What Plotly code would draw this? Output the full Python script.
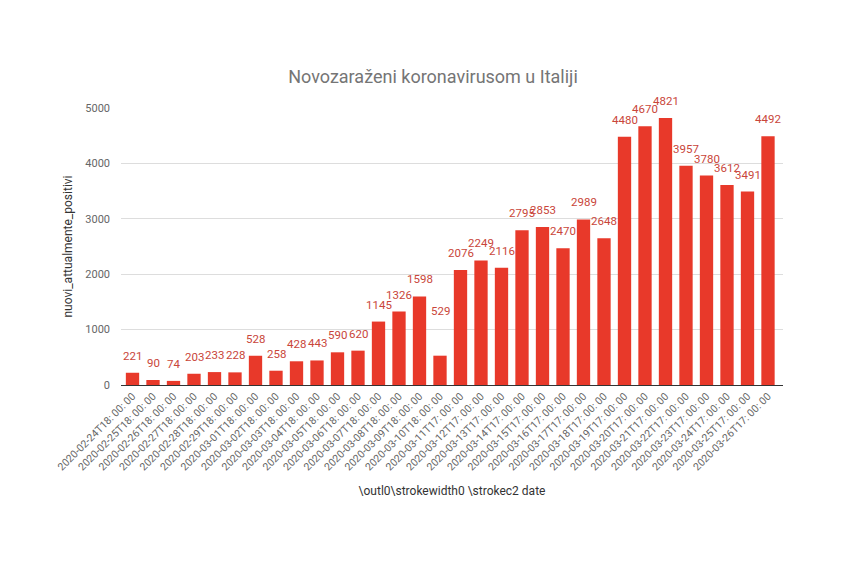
import plotly.graph_objects as go

dates = [
    "2020-02-24T18: 00: 00", "2020-02-25T18: 00: 00", "2020-02-26T18: 00: 00",
    "2020-02-27T18: 00: 00", "2020-02-28T18: 00: 00", "2020-02-29T18: 00: 00",
    "2020-03-01T18: 00: 00", "2020-03-02T18: 00: 00", "2020-03-03T18: 00: 00",
    "2020-03-04T18: 00: 00", "2020-03-05T18: 00: 00", "2020-03-06T18: 00: 00",
    "2020-03-07T18: 00: 00", "2020-03-08T18: 00: 00", "2020-03-09T18: 00: 00",
    "2020-03-10T18: 00: 00", "2020-03-11T17: 00: 00", "2020-03-12T17: 00: 00",
    "2020-03-13T17: 00: 00", "2020-03-14T17: 00: 00", "2020-03-15T17: 00: 00",
    "2020-03-16T17: 00: 00", "2020-03-17T17: 00: 00", "2020-03-18T17: 00: 00",
    "2020-03-19T17: 00: 00", "2020-03-20T17: 00: 00", "2020-03-21T17: 00: 00",
    "2020-03-22T17: 00: 00", "2020-03-23T17: 00: 00", "2020-03-24T17: 00: 00",
    "2020-03-25T17: 00: 00", "2020-03-26T17: 00: 00",
]
nuovi_attualmente_positivi = [
    221, 90, 74, 203, 233, 228, 528, 258, 428, 443, 590, 620, 1145, 1326, 1598,
    529, 2076, 2249, 2116, 2795, 2853, 2470, 2989, 2648, 4480, 4670, 4821, 3957,
    3780, 3612, 3491, 4492,
]
y_ticks = [0, 1000, 2000, 3000, 4000, 5000]

title_text = "Novozaraženi koronavirusom u Italiji"
x_title = "\\outl0\\strokewidth0 \\strokec2 date"
y_title = "nuovi_attualmente_positivi"

BAR = "#e8392a"
LABEL = "#c9463a"
FONT = "Roboto, Arial, sans-serif"

# extra vertical lift of individual data labels (label-collision placement)
label_lift = {"2020-03-10T18: 00: 00": 28}

fig = go.Figure()
fig.add_trace(go.Bar(
    x=dates, y=nuovi_attualmente_positivi,
    marker=dict(color=BAR, line=dict(width=0)),
    hoverinfo="x+y",
))

for d, v in zip(dates, nuovi_attualmente_positivi):
    fig.add_annotation(
        x=d, y=v, text=str(v), showarrow=False, yanchor="bottom",
        yshift=8 + label_lift.get(d, 0),
        font=dict(family=FONT, size=11.5, color=LABEL),
    )

fig.update_layout(
    width=850, height=566,
    paper_bgcolor="white", plot_bgcolor="white",
    margin=dict(l=113, r=75, t=100, b=189),
    bargap=0.35,
    showlegend=False,
    title=dict(text=title_text, x=0.5, xanchor="center", y=0.878, yanchor="middle",
               font=dict(family=FONT, size=18, color="#757575")),
    font=dict(family=FONT),
)
fig.update_xaxes(
    type="category", tickangle=-45, automargin=False,
    tickfont=dict(family=FONT, size=10.5, color="#666666"),
    showline=True, linecolor="#333333", linewidth=1,
    showgrid=False, ticks="",
    title=dict(text=x_title, font=dict(family=FONT, size=12, color="#333333"), standoff=14),
)
fig.update_yaxes(
    range=[0, 5000], tickvals=y_ticks, automargin=False,
    tickfont=dict(family=FONT, size=11, color="#666666"),
    showgrid=True, gridcolor="#dddddd", gridwidth=1,
    zeroline=False, ticks="", ticklabelstandoff=10,
    title=dict(text=y_title, font=dict(family=FONT, size=12, color="#333333"), standoff=10),
)

fig.write_html("out.html")
